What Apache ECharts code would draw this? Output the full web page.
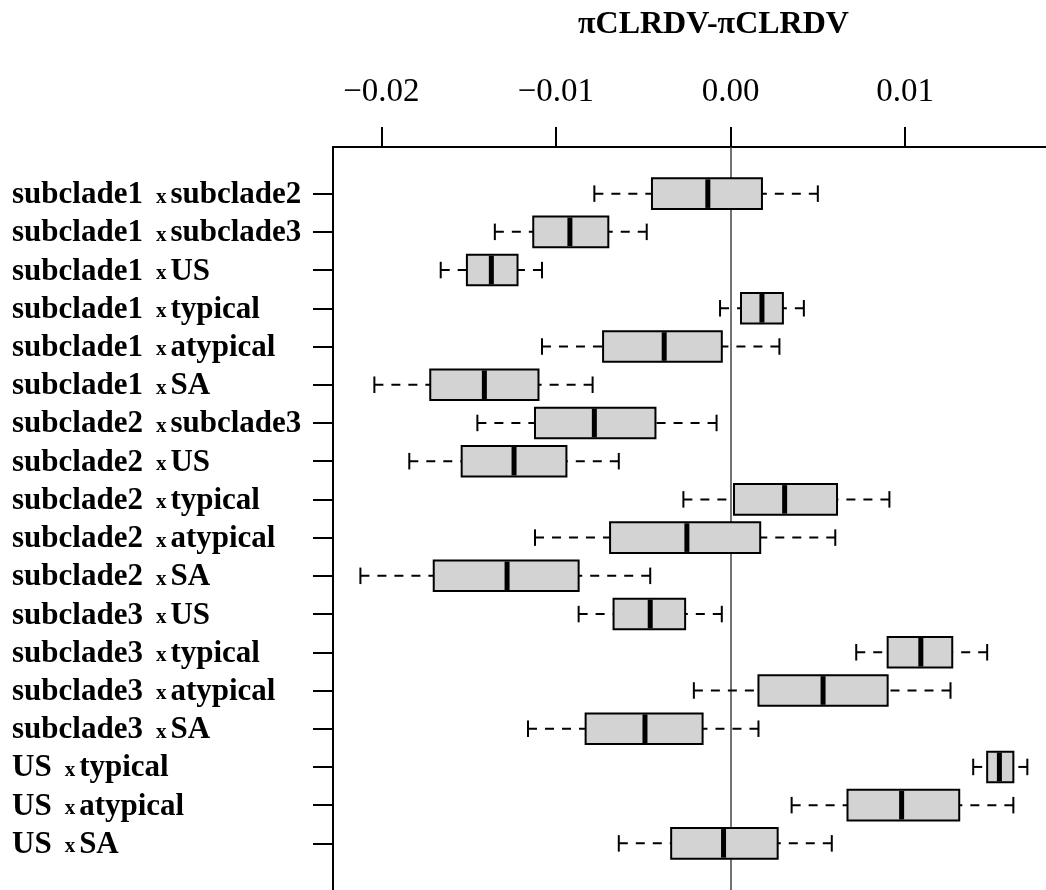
<!DOCTYPE html>
<html>
<head>
<meta charset="utf-8">
<title>πCLRDV-πCLRDV</title>
<script src="https://cdn.jsdelivr.net/npm/echarts@6/dist/echarts.min.js"></script>
<style>
  html, body { margin: 0; padding: 0; background: #fff; }
  #chart { width: 1046px; height: 890px; }
</style>
</head>
<body>
<div id="chart"></div>
<script>
// comparisons, top to bottom
var pairs = [
  ['subclade1', 'subclade2'], ['subclade1', 'subclade3'], ['subclade1', 'US'],
  ['subclade1', 'typical'], ['subclade1', 'atypical'], ['subclade1', 'SA'],
  ['subclade2', 'subclade3'], ['subclade2', 'US'], ['subclade2', 'typical'],
  ['subclade2', 'atypical'], ['subclade2', 'SA'], ['subclade3', 'US'],
  ['subclade3', 'typical'], ['subclade3', 'atypical'], ['subclade3', 'SA'],
  ['US', 'typical'], ['US', 'atypical'], ['US', 'SA']
];
// box statistics
var whiskerLow  = [-0.0078, -0.0135, -0.0166, -0.0006, -0.0108, -0.0204, -0.0145, -0.0184, -0.0027, -0.0112, -0.0212, -0.0087, 0.0072, -0.0021, -0.0116, 0.0139, 0.0035, -0.0064];
var q1          = [-0.0045, -0.0113, -0.0151, 0.0006, -0.0073, -0.0172, -0.0112, -0.0154, 0.0002, -0.0069, -0.0170, -0.0067, 0.0090, 0.0016, -0.0083, 0.0147, 0.0067, -0.0034];
var median      = [-0.0013, -0.0092, -0.0137, 0.0018, -0.0038, -0.0141, -0.0078, -0.0124, 0.0031, -0.0025, -0.0128, -0.0046, 0.0109, 0.0053, -0.0049, 0.0154, 0.0098, -0.0004];
var q3          = [0.0018, -0.0070, -0.0122, 0.0030, -0.0005, -0.0110, -0.0043, -0.0094, 0.0061, 0.0017, -0.0087, -0.0026, 0.0127, 0.0090, -0.0016, 0.0162, 0.0131, 0.0027];
var whiskerHigh = [0.0050, -0.0048, -0.0108, 0.0042, 0.0028, -0.0079, -0.0008, -0.0064, 0.0091, 0.0060, -0.0046, -0.0005, 0.0147, 0.0126, 0.0016, 0.0170, 0.0162, 0.0058];
var xTicks = [-0.02, -0.01, 0, 0.01];

var rows = [];
for (var i = 0; i < pairs.length; i++) rows.push(i + 1);

var boxData = [];
for (var i = 0; i < pairs.length; i++) {
  boxData.push([rows[i], whiskerLow[i], q1[i], median[i], q3[i], whiskerHigh[i]]);
}

var serif = '"Liberation Serif", "Times New Roman", serif';

// one box: dashed whiskers with caps, grey box, thick median
function renderBox(params, api) {
  var row = api.value(0);
  var pLo = api.coord([api.value(1), row]);
  var pQ1 = api.coord([api.value(2), row]);
  var pMed = api.coord([api.value(3), row]);
  var pQ3 = api.coord([api.value(4), row]);
  var pHi = api.coord([api.value(5), row]);
  var bh = api.size([0, 1])[1] * 0.8;
  var y = pMed[1];
  var cap = bh * 0.27;
  var dash = { stroke: '#000', lineWidth: 2, lineDash: [9, 8] };
  var solid = { stroke: '#000', lineWidth: 2 };
  return {
    type: 'group',
    children: [
      { type: 'line', shape: { x1: pLo[0], y1: y, x2: pQ1[0], y2: y }, style: dash },
      { type: 'line', shape: { x1: pHi[0], y1: y, x2: pQ3[0], y2: y }, style: dash },
      { type: 'line', shape: { x1: pLo[0], y1: y - cap, x2: pLo[0], y2: y + cap }, style: solid },
      { type: 'line', shape: { x1: pHi[0], y1: y - cap, x2: pHi[0], y2: y + cap }, style: solid },
      { type: 'rect', shape: { x: pQ1[0], y: y - bh / 2, width: pQ3[0] - pQ1[0], height: bh },
        style: { fill: '#d3d3d3', stroke: '#000', lineWidth: 2 } },
      { type: 'line', shape: { x1: pMed[0], y1: y - bh / 2 + 1, x2: pMed[0], y2: y + bh / 2 - 1 },
        style: { stroke: '#000', lineWidth: 5 } }
    ]
  };
}

var chart = echarts.init(document.getElementById('chart'), null, { renderer: 'canvas' });

chart.setOption({
  animation: false,
  backgroundColor: '#fff',
  title: {
    text: 'πCLRDV-πCLRDV',
    left: 578,
    top: 9,
    padding: 0,
    textStyle: { fontFamily: serif, fontSize: 32, fontWeight: 'bold', color: '#000' }
  },
  grid: { left: 333, top: 147, right: 0, bottom: -5 },
  xAxis: {
    type: 'value',
    position: 'top',
    min: -0.02277,
    max: 0.01807,
    splitLine: { show: false },
    axisLine: { show: true, onZero: false, lineStyle: { color: '#000', width: 2 } },
    axisTick: { show: true, length: 20, customValues: xTicks, lineStyle: { color: '#000', width: 2 } },
    axisLabel: {
      customValues: xTicks,
      margin: 38,
      fontFamily: serif,
      fontSize: 33,
      color: '#000',
      formatter: function (v) {
        return (v < 0 ? '\u2212' : '') + Math.abs(v).toFixed(2);
      }
    }
  },
  yAxis: {
    type: 'value',
    inverse: true,
    min: -0.22,
    max: 19.22,
    splitLine: { show: false },
    axisLine: { show: true, onZero: false, lineStyle: { color: '#000', width: 2 } },
    axisTick: { show: true, length: 20, customValues: rows, lineStyle: { color: '#000', width: 2 } },
    axisLabel: {
      customValues: rows,
      align: 'left',
      margin: 321,
      formatter: function (v) {
        var p = pairs[Math.round(v) - 1];
        return p ? '{a|' + p[0] + '}{x|x}{a|' + p[1] + '}' : '';
      },
      rich: {
        a: { fontFamily: serif, fontSize: 31, fontWeight: 'bold', color: '#000', verticalAlign: 'bottom', lineHeight: 34 },
        x: { fontFamily: serif, fontSize: 21, fontWeight: 'bold', color: '#000', verticalAlign: 'bottom', lineHeight: 34,
             padding: [0, 4, 3, 13] }
      }
    }
  },
  series: [{
    type: 'custom',
    z: 3,
    renderItem: renderBox,
    encode: { x: [1, 2, 3, 4, 5], y: 0 },
    data: boxData,
    markLine: {
      silent: true,
      z: 1,
      symbol: 'none',
      label: { show: false },
      lineStyle: { color: '#444', width: 1.5, type: 'solid' },
      data: [{ xAxis: 0 }]
    }
  }]
});
</script>
</body>
</html>
